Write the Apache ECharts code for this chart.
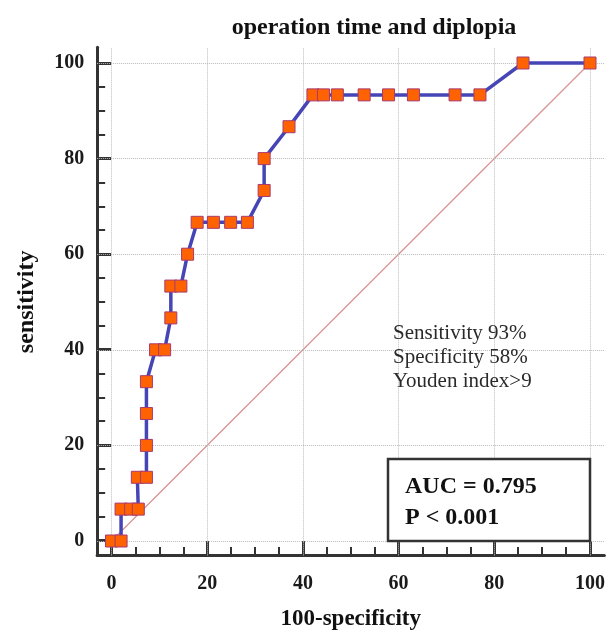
<!DOCTYPE html>
<html>
<head>
<meta charset="utf-8">
<script src="https://cdn.jsdelivr.net/npm/echarts@6/dist/echarts.min.js"></script>
<style>html,body{margin:0;padding:0;background:#fff}#c{width:609px;height:636px}</style>
</head>
<body>
<div id="c"></div>
<script>
// ---- data ----
const fpr = [0, 2.0, 2.0, 4.0, 5.6, 5.4, 7.3, 7.3, 7.3, 7.3, 9.2, 11.1, 12.4, 12.4, 14.5, 15.9, 17.9, 21.3, 24.9, 28.4, 31.9, 31.9, 37.1, 42.1, 44.3, 47.2, 52.8, 57.9, 63.1, 71.8, 77.0, 86.0, 100];
const tpr = [0, 0, 6.67, 6.67, 6.67, 13.33, 13.33, 20, 26.67, 33.33, 40, 40, 46.67, 53.33, 53.33, 60, 66.67, 66.67, 66.67, 66.67, 73.33, 80, 86.67, 93.33, 93.33, 93.33, 93.33, 93.33, 93.33, 93.33, 93.33, 100, 100];
const diagonal = [[0, 0], [100, 100]];
const gridValues = [0, 20, 40, 60, 80, 100];
const titleText = 'operation time and diplopia';
const xName = '100-specificity';
const yName = 'sensitivity';
const noteLines = ['Sensitivity 93%', 'Specificity 58%', 'Youden index>9'];
const boxLines = ['AUC = 0.795', 'P < 0.001'];

// ---- layout ----
const X0 = 111.5, XS = 4.785, Y0 = 541, YS = 4.78;
const XMIN = -3, XMAX = 103, YMIN = -3, YMAX = 103.3;
const serif = "'Liberation Serif', 'DejaVu Serif', serif";
const ink = '#2a2a2a';

const chart = echarts.init(document.getElementById('c'));
const rocData = fpr.map((x, i) => [x, tpr[i]]);

const outerGrid = {
  left: X0 + XMIN * XS, top: Y0 - YMAX * YS,
  width: (XMAX - XMIN) * XS, height: (YMAX - YMIN) * YS
};
const innerGrid = { left: X0, top: Y0 - 100 * YS, width: 100 * XS, height: 100 * YS };

const labelStyle = { fontFamily: serif, fontWeight: 'bold', fontSize: 20, color: '#1a1a1a' };

chart.setOption({
  backgroundColor: '#fff',
  animation: false,
  title: {
    text: titleText, left: 369, top: 11, textAlign: 'center',
    textStyle: { fontFamily: serif, fontWeight: 'bold', fontSize: 24, color: '#111' }
  },
  grid: [
    Object.assign({ containLabel: false }, outerGrid),
    Object.assign({ containLabel: false }, innerGrid)
  ],
  xAxis: [
    { type: 'value', gridIndex: 0, min: XMIN, max: XMAX,
      axisLine: { show: true, onZero: false, lineStyle: { color: '#333', width: 3 } },
      axisTick: { show: false }, axisLabel: { show: false }, splitLine: { show: false } },
    { type: 'value', gridIndex: 1, min: 0, max: 100, interval: 20,
      offset: (-YMIN) * YS,
      name: xName, nameLocation: 'middle', nameGap: 53,
      nameTextStyle: { fontFamily: serif, fontWeight: 'bold', fontSize: 23, color: '#111' },
      axisLine: { show: false, onZero: false },
      axisTick: { show: true, inside: true, length: 14, lineStyle: { color: '#333', width: 3 } },
      minorTick: { show: true, splitNumber: 4, length: 8, lineStyle: { color: '#333', width: 2 } },
      axisLabel: Object.assign({ margin: 19 }, labelStyle),
      splitLine: { show: false } }
  ],
  yAxis: [
    { type: 'value', gridIndex: 0, min: YMIN, max: YMAX,
      axisLine: { show: true, onZero: false, lineStyle: { color: '#333', width: 3 } },
      axisTick: { show: false }, axisLabel: { show: false }, splitLine: { show: false } },
    { type: 'value', gridIndex: 1, min: 0, max: 100, interval: 20,
      offset: (-XMIN) * XS,
      name: yName, nameLocation: 'middle', nameGap: 58, nameRotate: 90,
      nameTextStyle: { fontFamily: serif, fontWeight: 'bold', fontSize: 24, color: '#111' },
      axisLine: { show: false, onZero: false },
      axisTick: { show: true, inside: true, length: 14, lineStyle: { color: '#333', width: 3 } },
      minorTick: { show: true, splitNumber: 4, length: 8, lineStyle: { color: '#333', width: 2 } },
      axisLabel: Object.assign({ margin: 13 }, labelStyle),
      splitLine: { show: false } }
  ],
  series: [
    { type: 'line', xAxisIndex: 0, yAxisIndex: 0, data: [], silent: true,
      markLine: {
        symbol: 'none', silent: true, label: { show: false },
        lineStyle: { color: '#bcbcbc', type: 'dotted', width: 1 },
        data: gridValues.map(v => ({ xAxis: v })).concat(gridValues.map(v => ({ yAxis: v })))
      } },
    { type: 'line', xAxisIndex: 0, yAxisIndex: 0, data: diagonal, symbol: 'none', silent: true,
      lineStyle: { color: '#d99090', width: 1.2 } , z: 3 },
    { type: 'line', xAxisIndex: 0, yAxisIndex: 0, data: rocData,
      symbol: 'rect', symbolSize: 12, showAllSymbol: true, z: 5,
      lineStyle: { color: '#4545b5', width: 3.5 },
      itemStyle: { color: '#ff6200', borderColor: '#a83a70', borderWidth: 1 } }
  ],
  graphic: [
    ...noteLines.map((t, i) => ({
      type: 'text', left: 393, top: 323 + i * 24, z: 20,
      style: { text: t, fontFamily: serif, fontSize: 21, fill: ink }
    })),
    { type: 'rect', z: 15, shape: { x: 388, y: 459, width: 202, height: 82 },
      style: { fill: '#fff', stroke: '#333', lineWidth: 2.5 } },
    ...boxLines.map((t, i) => ({
      type: 'text', left: 405, top: 475 + i * 31, z: 20,
      style: { text: t, fontFamily: serif, fontSize: 24, fontWeight: 'bold', fill: '#111' }
    }))
  ]
});
</script>
</body>
</html>
